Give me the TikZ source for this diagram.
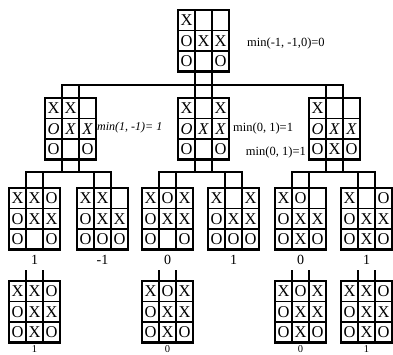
\documentclass[tikz,border=0pt]{standalone}
\usepackage{fontspec}
\setmainfont{Liberation Serif}
\usetikzlibrary{calc}
\tikzset{
 boardbox/.style={draw, line width=2.3pt, minimum width=51pt, minimum height=61.5pt, inner sep=0pt, outer sep=0pt},
 cellmark/.style={inner sep=0pt, font=\fontsize{16.5}{16.5}\selectfont},
 gridln/.style={line width=1.9pt},
 stem/.style={line width=1.9pt},
 val/.style={font=\fontsize{14}{14}\selectfont, inner sep=0pt},
 lowval/.style={font=\fontsize{10.5}{10.5}\selectfont, inner sep=0pt, anchor=base},
 note/.style={font=\fontsize{12.5}{12.5}\selectfont, inner sep=0pt}
}
\newcommand{\tttboard}[4]{%
  \node[boardbox] (#1) at (#2+25.5,#3+30.75) {};
  \draw[gridln] (#2+17,#3) -- (#2+17,#3+61.5) (#2+34,#3) -- (#2+34,#3+61.5)
     (#2,#3+20.5) -- (#2+51,#3+20.5) (#2,#3+41) -- (#2+51,#3+41);
  \foreach \c [count=\i from 0] in {#4} {
    \pgfmathtruncatemacro\rrow{\i/3}
    \pgfmathtruncatemacro\kcol{mod(\i,3)}
    \node[cellmark] (#1-\i) at (#2+8.5+17*\kcol, #3+10.25+20.5*\rrow) {\c};
  }%
}
\begin{document}
\begin{tikzpicture}[x=1pt,y=-1pt]
\useasboundingbox (0,0) rectangle (393,354);
\fill[white] (0,0) rectangle (393,354);
% level 1
\tttboard{root}{178}{10}{X,{},{},O,X,X,O,{},O}
% level 2
\tttboard{a}{45}{98}{X,X,{},{\itshape O},{\itshape X},{\itshape X},O,{},O}
\tttboard{b}{178}{98}{X,{},X,{\itshape O},{\itshape X},{\itshape X},O,{},O}
\tttboard{c}{309}{98}{X,{},{},{\itshape O},{\itshape X},{\itshape X},O,X,O}
% level 3
\tttboard{d1}{9}{188}{X,X,O,O,X,X,O,{},O}
\tttboard{d2}{77}{188}{X,X,{},O,X,X,O,O,O}
\tttboard{d3}{142}{188}{X,O,X,O,X,X,O,{},O}
\tttboard{d4}{208}{188}{X,{},X,O,X,X,O,O,O}
\tttboard{d5}{275}{188}{X,O,{},O,X,X,O,X,O}
\tttboard{d6}{341}{188}{X,{},O,O,X,X,O,X,O}
% level 4
\tttboard{e1}{9}{281}{X,X,O,O,X,X,O,X,O}
\tttboard{e3}{142}{281}{X,O,X,O,X,X,O,X,O}
\tttboard{e5}{275}{281}{X,O,X,O,X,X,O,X,O}
\tttboard{e6}{341}{281}{X,X,O,O,X,X,O,X,O}
% connectors root -> level 2
\draw[stem] ($(root.south)+(-8.5,0)$) -- ($(b.north)+(-8.5,0)$);
\draw[stem] ($(root.south)+(8.5,0)$) -- ($(b.north)+(8.5,0)$);
\draw[stem] ($(a.north)+(-8.5,0)$) -- ++(0,-13) -| ($(c.north)+(8.5,0)$);
\draw[stem] ($(a.north)+(8.5,0)$) -- ++(0,-13);
\draw[stem] ($(c.north)+(-8.5,0)$) -- ++(0,-13);
% level 2 -> level 3
\foreach \p/\l/\r in {a/d1/d2, b/d3/d4, c/d5/d6}{
  \draw[stem] ($(\p.south)+(-8.5,0)$) -- ++(0,12.5);
  \draw[stem] ($(\p.south)+(8.5,0)$) -- ++(0,12.5);
  \draw[stem] ($(\l.north)+(-8.5,0)$) -- ++(0,-16) -| ($(\r.north)+(8.5,0)$);
  \draw[stem] ($(\l.north)+(8.5,0)$) -- ++(0,-16);
  \draw[stem] ($(\r.north)+(-8.5,0)$) -- ++(0,-16);
}
% level 3 -> level 4 stubs
\foreach \q in {e1,e3,e5,e6}{
  \draw[stem] ($(\q.north)+(-8.5,0)$) -- ++(0,-11);
  \draw[stem] ($(\q.north)+(8.5,0)$) -- ++(0,-11);
}
% values
\node[val] (v1) at (34.5,260) {1};
\node[val] (v2) at (102.5,260) {-1};
\node[val] (v3) at (167.5,260) {0};
\node[val] (v4) at (233.5,260) {1};
\node[val] (v5) at (300.5,260) {0};
\node[val] (v6) at (366.5,260) {1};
\node[lowval] (w1) at (34.5,352.5) {1};
\node[lowval] (w3) at (167.5,352.5) {0};
\node[lowval] (w5) at (300.5,352.5) {0};
\node[lowval] (w6) at (366.5,352.5) {1};
% notes
\node[note, anchor=west] (n0) at (247,43) {min(-1, -1,0)=0};
\node[note, anchor=west, font=\fontsize{12}{12}\selectfont\itshape] (n1) at (97,128) {min(1, -1)= 1};
\node[note, anchor=west] (n2) at (233,128) {min(0, 1)=1};
\node[note, anchor=east] (n3) at (306,152) {min(0, 1)=1};
\end{tikzpicture}
\end{document}
